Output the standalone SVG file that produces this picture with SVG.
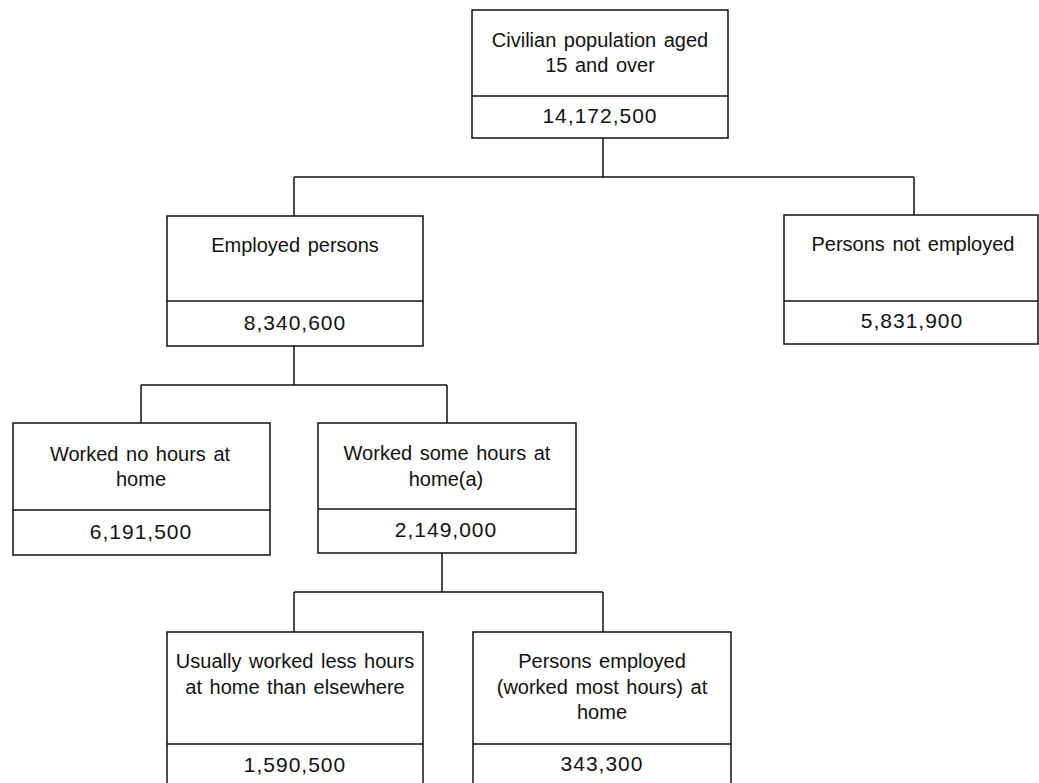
<svg xmlns="http://www.w3.org/2000/svg" width="1039" height="783" viewBox="0 0 1039 783">
<style>
.box{fill:#fff;stroke:#111;stroke-width:1.5}
.div{stroke:#111;stroke-width:1.5}
.lbl{font-family:"Liberation Sans",Arial,sans-serif;font-size:20px;word-spacing:2px;fill:#111;text-anchor:middle}
.num{font-family:"Liberation Sans",Arial,sans-serif;font-size:21px;letter-spacing:1px;fill:#111;text-anchor:middle}
.con{fill:none;stroke:#111;stroke-width:1.5}
</style>
<rect width="1039" height="783" fill="#fff"/>
<g id="connectors">
<path class="con" d="M603 138V177M294 177H914M294 177V216M914 177V215"/>
<path class="con" d="M294 346V385M141 385H447M141 385V423M447 385V423"/>
<path class="con" d="M442 553V592M294 592H603M294 592V632M603 592V632"/>
</g>
<g id="n-civilian">
<rect class="box" x="472" y="10" width="256" height="128"/>
<line class="div" x1="472" y1="96" x2="728" y2="96"/>
<text class="lbl" x="600" y="47">Civilian population aged</text>
<text class="lbl" x="600" y="72">15 and over</text>
<text class="num" x="600" y="123">14,172,500</text>
</g>
<g id="n-employed">
<rect class="box" x="167" y="216" width="256" height="130"/>
<line class="div" x1="167" y1="301" x2="423" y2="301"/>
<text class="lbl" x="295" y="252">Employed persons</text>
<text class="num" x="295" y="330">8,340,600</text>
</g>
<g id="n-notemployed">
<rect class="box" x="784" y="215" width="254" height="129"/>
<line class="div" x1="784" y1="301" x2="1038" y2="301"/>
<text class="lbl" x="913" y="251">Persons not employed</text>
<text class="num" x="912" y="328">5,831,900</text>
</g>
<g id="n-nohours">
<rect class="box" x="13" y="423" width="257" height="132"/>
<line class="div" x1="13" y1="510" x2="270" y2="510"/>
<text class="lbl" x="140" y="461">Worked no hours at</text>
<text class="lbl" x="141" y="486">home</text>
<text class="num" x="141" y="539">6,191,500</text>
</g>
<g id="n-somehours">
<rect class="box" x="318" y="423" width="258" height="130"/>
<line class="div" x1="318" y1="509" x2="576" y2="509"/>
<text class="lbl" x="447" y="460">Worked some hours at</text>
<text class="lbl" x="446" y="486">home(a)</text>
<text class="num" x="446" y="537">2,149,000</text>
</g>
<g id="n-less">
<rect class="box" x="167" y="632" width="256" height="160"/>
<line class="div" x1="167" y1="744" x2="423" y2="744"/>
<text class="lbl" x="295" y="668">Usually worked less hours</text>
<text class="lbl" x="295" y="694">at home than elsewhere</text>
<text class="num" x="295" y="772">1,590,500</text>
</g>
<g id="n-most">
<rect class="box" x="473" y="632" width="258" height="160"/>
<line class="div" x1="473" y1="744" x2="731" y2="744"/>
<text class="lbl" x="602" y="668">Persons employed</text>
<text class="lbl" x="602" y="694">(worked most hours) at</text>
<text class="lbl" x="602" y="719">home</text>
<text class="num" x="602" y="771">343,300</text>
</g>
</svg>
